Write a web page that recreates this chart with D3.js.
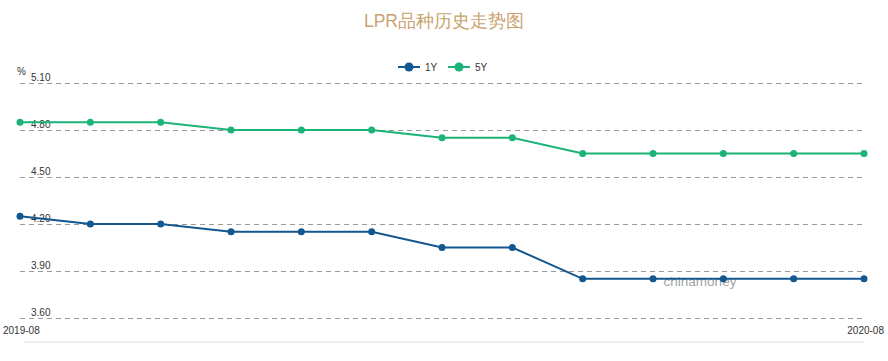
<!DOCTYPE html>
<html><head><meta charset="utf-8">
<script src="https://cdn.jsdelivr.net/npm/d3@7"></script>
<style>body{margin:0;background:#fff;}svg{display:block;font-family:Arial,"Liberation Sans",sans-serif;}</style>
</head><body><svg id="c" width="888" height="361"></svg>
<script>
const months = ["2019-08","2019-09","2019-10","2019-11","2019-12","2020-01","2020-02","2020-03","2020-04","2020-05","2020-06","2020-07","2020-08"];
const lpr1Y = [4.25,4.20,4.20,4.15,4.15,4.15,4.05,4.05,3.85,3.85,3.85,3.85,3.85];
const lpr5Y = [4.85,4.85,4.85,4.80,4.80,4.80,4.75,4.75,4.65,4.65,4.65,4.65,4.65];
const yTicks = [3.60,3.90,4.20,4.50,4.80,5.10];
const seriesNames = ["1Y","5Y"];
const seriesColors = ["#12578f","#1bb377"];

const svg = d3.select("#c");
const x = d3.scalePoint().domain(months).range([20,864]);
const y = d3.scaleLinear().domain([3.60,5.10]).range([318,83]);

svg.append("text").attr("x",444).attr("y",27).attr("text-anchor","middle")
  .attr("fill","#c9a36f").attr("font-size",17.5).text("LPR品种历史走势图");

// grid
const yAxis = d3.axisLeft(y).tickValues(yTicks).tickSize(-844).tickFormat(d3.format(".2f"));
const gy = svg.append("g").attr("transform","translate(20,0)").call(yAxis);
gy.select(".domain").remove();
gy.selectAll(".tick line").attr("stroke","#999").attr("stroke-dasharray","5,4");
gy.selectAll(".tick text").attr("x",11).attr("dy",-3).attr("text-anchor","start")
  .attr("fill","#333").attr("font-size",10).attr("font-family","Arial,'Liberation Sans',sans-serif");

svg.append("text").attr("x",17).attr("y",75).attr("font-size",10).attr("fill","#333").text("%");

// bottom axis line
svg.append("line").attr("x1",24).attr("x2",864).attr("y1",342).attr("y2",342).attr("stroke","#ddd");
svg.append("text").attr("x",3).attr("y",334).attr("font-size",10).attr("fill","#333").text(months[0]);
svg.append("text").attr("x",884).attr("y",334).attr("font-size",10).attr("fill","#333").attr("text-anchor","end").text(months[months.length-1]);

// watermark
svg.append("text").attr("x",700).attr("y",286).attr("text-anchor","middle").attr("font-size",13.5)
  .attr("fill","#888").attr("fill-opacity",0.8).text("chinamoney");

const line = d3.line().x((d,i)=>x(months[i])).y(d=>y(d));
[lpr1Y,lpr5Y].forEach((vals,k)=>{
  svg.append("path").datum(vals).attr("d",line).attr("fill","none")
    .attr("stroke",seriesColors[k]).attr("stroke-width",2);
  svg.append("g").selectAll("circle").data(vals).join("circle")
    .attr("cx",(d,i)=>x(months[i])).attr("cy",d=>y(d)).attr("r",3.5).attr("fill",seriesColors[k]);
});

// legend
const lg = svg.append("g");
seriesNames.forEach((n,k)=>{
  const lx = 398 + k*50;
  lg.append("line").attr("x1",lx).attr("x2",lx+22).attr("y1",67).attr("y2",67).attr("stroke",seriesColors[k]).attr("stroke-width",2);
  lg.append("circle").attr("cx",lx+11).attr("cy",67).attr("r",4.5).attr("fill",seriesColors[k]);
  lg.append("text").attr("x",lx+27).attr("y",70.5).attr("font-size",10).attr("fill","#333").text(n);
});
</script></body></html>
